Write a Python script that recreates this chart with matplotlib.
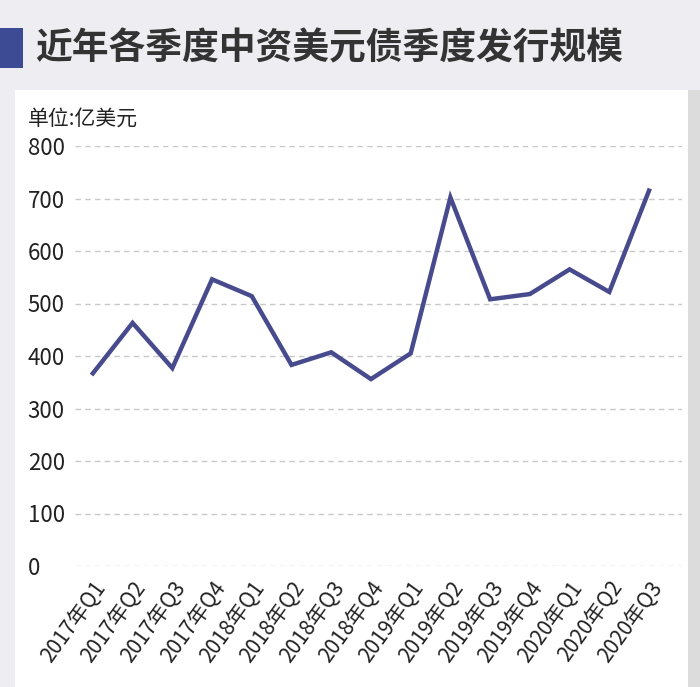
import matplotlib
matplotlib.use("Agg")
import matplotlib.pyplot as plt
from matplotlib.patches import Rectangle

plt.rcParams['font.family'] = ['Noto Sans CJK SC', 'DejaVu Sans']

categories = ["2017年Q1", "2017年Q2", "2017年Q3", "2017年Q4",
              "2018年Q1", "2018年Q2", "2018年Q3", "2018年Q4",
              "2019年Q1", "2019年Q2", "2019年Q3", "2019年Q4",
              "2020年Q1", "2020年Q2", "2020年Q3"]
values = [367, 463, 377, 546, 514, 383, 407, 356, 405, 702, 508, 518, 565, 522, 715]
yticks = [0, 100, 200, 300, 400, 500, 600, 700, 800]

title = "近年各季度中资美元债季度发行规模"
unit = "单位:亿美元"

W, H = 700, 687
fig = plt.figure(figsize=(W / 100, H / 100), dpi=100)
fig.patch.set_facecolor("#eeeef2")

# white panel
fig.patches.append(Rectangle((15 / W, 0), (688 - 15) / W, 1 - 90 / H,
                             transform=fig.transFigure, facecolor="white",
                             edgecolor="none", zorder=-10))
# right gray strip
fig.patches.append(Rectangle((688 / W, 0), 12 / W, 1 - 90 / H,
                             transform=fig.transFigure, facecolor="#dcdcdc",
                             edgecolor="none", zorder=-10))
# title bar
fig.patches.append(Rectangle((0, 1 - 68 / H), 23 / W, 40 / H,
                             transform=fig.transFigure, facecolor="#3d4a94",
                             edgecolor="none", zorder=-5))
fig.text(35 / W, 1 - 49 / H, title, fontsize=26.5, fontweight="bold",
         color="#333333", ha="left", va="center")
fig.text(28 / W, 1 - 119 / H, unit, fontsize=15, color="#222222",
         ha="left", va="center")

ax = fig.add_axes([75 / W, 1 - 566 / H, (682 - 75) / W, (566 - 146) / H])
ax.set_facecolor("none")
x = list(range(len(categories)))
ax.plot(x, values, color="#474a8c", lw=3.2, solid_joinstyle="miter", zorder=3)
ax.set_xlim(-0.45, 14.83)
ax.set_ylim(0, 800)
ax.set_yticks(yticks)
ax.set_yticklabels([str(v) for v in yticks], fontsize=16, fontweight="light",
                   color="#222222", ha="left")
ax.tick_params(axis="y", length=0, pad=34)
ax.set_xticks(x)
ax.set_xticklabels(categories, fontsize=15, fontweight="light", color="#222222",
                   rotation=54, ha="right", va="top", rotation_mode="anchor")
ax.tick_params(axis="x", length=0, pad=8)
for s in ax.spines.values():
    s.set_visible(False)
ax.yaxis.grid(True, color="#c8c8c8", linestyle=(0, (4, 3)), lw=1)
ax.set_axisbelow(True)

fig.savefig("out.png", dpi=100, facecolor=fig.get_facecolor())
